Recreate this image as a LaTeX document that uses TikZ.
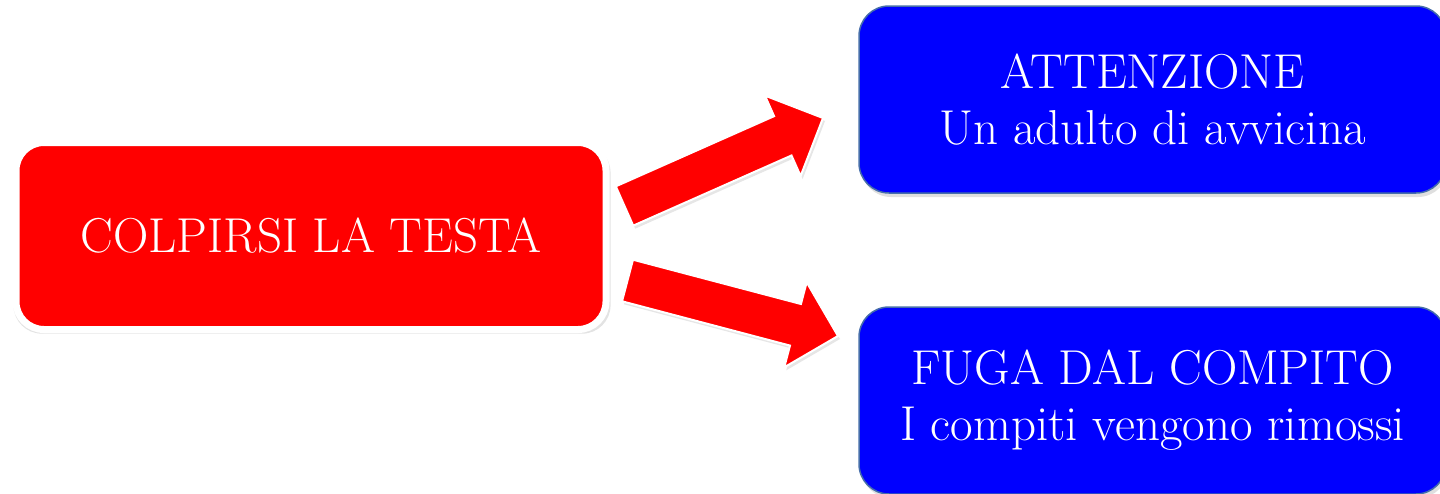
\documentclass[tikz,border=0pt]{standalone}
\usepackage{tikz}
\usetikzlibrary{positioning,calc,shadows}
\definecolor{boxedge}{RGB}{70,110,170}

\begin{document}
\begin{tikzpicture}[x=1pt, y=-1pt,
    txt/.style={align=center, text=white, font=\fontsize{49}{56}\selectfont},
    redbox/.style={txt, draw=white, line width=7pt, fill=red, rounded corners=28pt,
                   minimum width=590pt, minimum height=187pt,
                   drop shadow={shadow xshift=1pt, shadow yshift=-3pt, shadow scale=1.012,
                                opacity=0.22}},
    bluebox/.style={txt, draw=boxedge, line width=1.5pt, fill=blue, rounded corners=30pt,
                    minimum width=587pt, minimum height=187pt,
                    drop shadow={shadow xshift=2pt, shadow yshift=-4pt, opacity=0.25}},
    bigarr/.style={fill=red, draw=white, line width=2pt, line join=miter,
                   drop shadow={shadow xshift=2pt, shadow yshift=-3pt, opacity=0.2}}
  ]
  \clip (0,0) rectangle (1440,493);

  \node[redbox]  (colpo) at ( 311, 236) {COLPIRSI LA TESTA};
  \node[bluebox] (att)   at (1152.5, 99.5) {ATTENZIONE\\Un adulto di avvicina};
  \node[bluebox] (fuga)  at (1152.5,400.5) {FUGA DAL COMPITO\\I compiti vengono rimossi};

  % block arrows: tail / tip
  \coordinate (a1s) at (624.5,206);
  \coordinate (a1e) at (823,118);
  \coordinate (a2s) at (627.5,280.5);
  \coordinate (a2e) at (838,336);
  \foreach \s/\e in {a1s/a1e, a2s/a2e} {
    \coordinate (b) at ($(\e)!44pt!(\s)$);
    \draw[bigarr] ($(\s)!21.5pt!90:(\e)$) -- ($(b)!21.5pt!90:(\e)$) -- ($(b)!44pt!90:(\e)$)
      -- (\e) -- ($(b)!44pt!-90:(\e)$) -- ($(b)!21.5pt!-90:(\e)$) -- ($(\s)!21.5pt!-90:(\e)$) -- cycle;
  }
\end{tikzpicture}
\end{document}
